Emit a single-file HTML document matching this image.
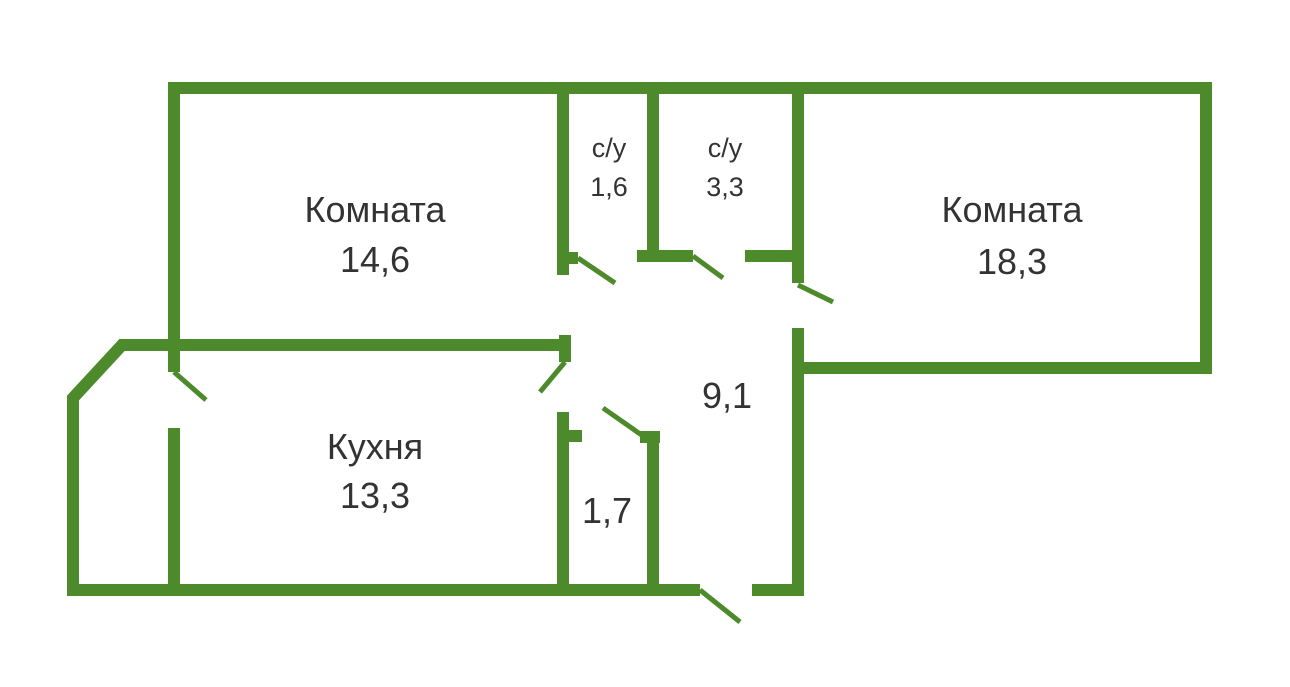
<!DOCTYPE html>
<html><head><meta charset="utf-8"><style>
body{margin:0;background:#fff;width:1290px;height:682px;overflow:hidden}
text{font-family:"Liberation Sans","DejaVu Sans",sans-serif;fill:#333;text-anchor:middle}
</style></head><body>
<svg width="1290" height="682" viewBox="0 0 1290 682">
<g stroke="#4d8a2b" stroke-width="12" fill="none" stroke-linecap="butt" stroke-linejoin="miter">
<path d="M168 88H1212M1206 82V374M1212 368H798M174 88V372M174 428V596M798 88V283M798 328V596M804 590H752"/>
<path d="M563 88V275M557 258H578M653 88V256M637 256H693M745 256H804"/>
<path d="M565 335V362M568 345H122L73 398V596M67 590H700"/>
<path d="M563 412V596M557 436H582M653 432V596M640 437H660"/>
</g>
<g stroke="#4d8a2b" stroke-width="5" fill="none">
<path d="M578 258L615 283M693 256L723 278M798 285L833 302M174 372L206 400M565 362L540 392M603 408L643 436M700 590L740 622"/>
</g>
<g font-size="36">
<text x="375" y="222">Комната</text><text x="375" y="272">14,6</text>
<text x="1012" y="222">Комната</text><text x="1012" y="274">18,3</text>
<text x="727" y="408">9,1</text>
<text x="375" y="459">Кухня</text><text x="375" y="508">13,3</text>
<text x="607" y="523">1,7</text>
</g>
<g font-size="27">
<text x="609" y="157">с/у</text><text x="609" y="196">1,6</text>
<text x="725" y="157">с/у</text><text x="725" y="196">3,3</text>
</g>
</svg>
</body></html>
